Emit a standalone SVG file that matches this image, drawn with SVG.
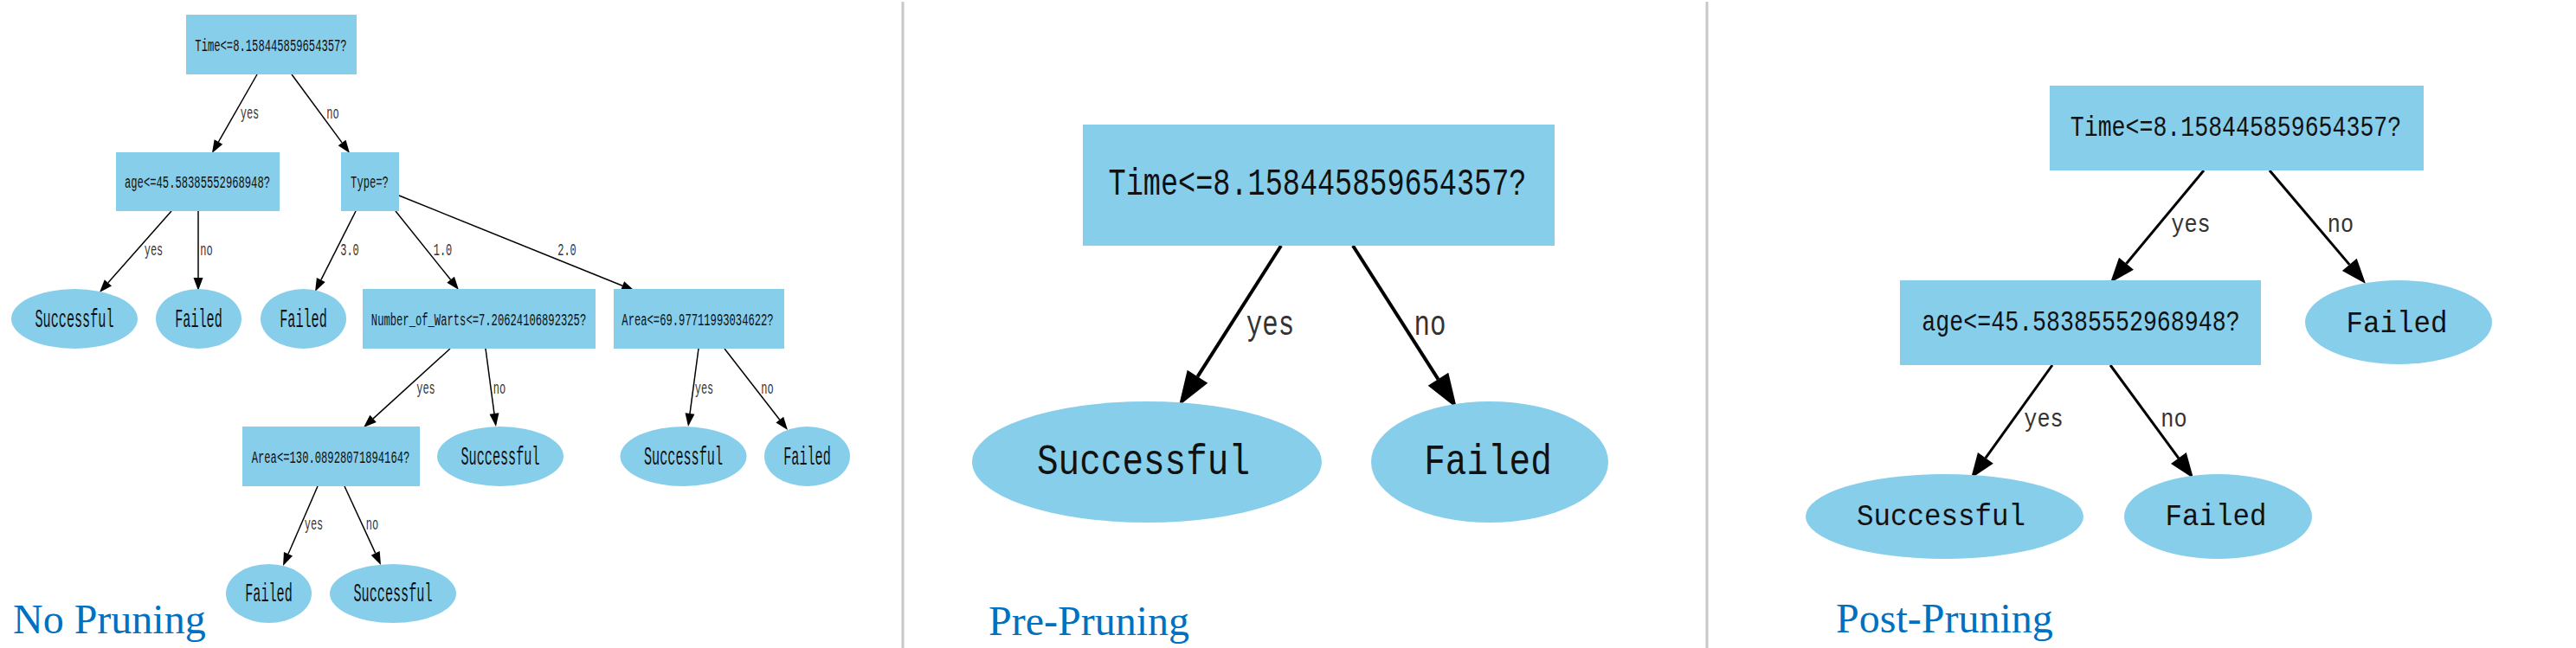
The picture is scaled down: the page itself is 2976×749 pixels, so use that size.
<svg xmlns="http://www.w3.org/2000/svg" width="2976" height="749" viewBox="0 0 2976 749">
<style>
.box{fill:#87CEEB}
.t{font-family:"Liberation Mono",monospace;fill:#111;text-anchor:middle}
.lbl{font-family:"Liberation Mono",monospace;fill:#333;text-anchor:middle}
.title{font-family:"Liberation Serif",serif;font-size:48px;fill:#0070C0}
.e1{stroke:#000;stroke-width:1.5;fill:none;marker-end:url(#a1)}
.e2{stroke:#000;stroke-width:4;fill:none;marker-end:url(#a2)}
.e3{stroke:#000;stroke-width:3;fill:none;marker-end:url(#a3)}
.div{stroke:#c8c8c8;stroke-width:3}
.f1{font-size:21px}.l1{font-size:20px}.s1{font-size:30px}
.f2{font-size:44px}.l2{font-size:40px}.s2{font-size:50px}
.f3{font-size:33px}.l3{font-size:29px}.s3{font-size:36px}
</style>
<defs>
<marker id="a1" markerUnits="userSpaceOnUse" markerWidth="15" markerHeight="11" refX="0" refY="5.5" orient="auto" overflow="visible"><path d="M0,0 L15,5.5 L0,11 Z" fill="#000"/></marker>
<marker id="a2" markerUnits="userSpaceOnUse" markerWidth="40" markerHeight="28" refX="0" refY="14" orient="auto" overflow="visible"><path d="M0,0 L40,14 L0,28 Z" fill="#000"/></marker>
<marker id="a3" markerUnits="userSpaceOnUse" markerWidth="29" markerHeight="22" refX="0" refY="11" orient="auto" overflow="visible"><path d="M0,0 L29,11 L0,22 Z" fill="#000"/></marker>
</defs>
<rect width="2976" height="749" fill="#fff"/>
<line class="div" x1="1043" y1="2" x2="1043" y2="749"/>
<line class="div" x1="1972" y1="2" x2="1972" y2="749"/>

<g id="connectors">
<line class="e1" x1="297" y1="86" x2="252.4" y2="164"/>
<line class="e1" x1="337" y1="86" x2="395.1" y2="164.9"/>
<line class="e1" x1="198" y1="244" x2="124.9" y2="326.8"/>
<line class="e1" x1="229" y1="244" x2="229" y2="321"/>
<line class="e1" x1="411" y1="244" x2="370.8" y2="323.6"/>
<line class="e1" x1="457" y1="244" x2="520.6" y2="323.3"/>
<line class="e1" x1="461" y1="226" x2="719.1" y2="330.3"/>
<line class="e1" x1="520" y1="403" x2="431.1" y2="483.9"/>
<line class="e1" x1="561" y1="403" x2="571" y2="478.1"/>
<line class="e1" x1="807" y1="403" x2="797" y2="478.1"/>
<line class="e1" x1="837" y1="403" x2="900.8" y2="485.2"/>
<line class="e1" x1="367" y1="562" x2="333" y2="640.2"/>
<line class="e1" x1="398" y1="562" x2="433.7" y2="639.4"/>
<text class="lbl l1" transform="translate(288.5,137) scale(0.6,1)">yes</text>
<text class="lbl l1" transform="translate(384.5,137) scale(0.6,1)">no</text>
<text class="lbl l1" transform="translate(177.5,295) scale(0.6,1)">yes</text>
<text class="lbl l1" transform="translate(238.5,295) scale(0.6,1)">no</text>
<text class="lbl l1" transform="translate(404,295) scale(0.6,1)">3.0</text>
<text class="lbl l1" transform="translate(511.5,295) scale(0.6,1)">1.0</text>
<text class="lbl l1" transform="translate(655,295) scale(0.6,1)">2.0</text>
<text class="lbl l1" transform="translate(492,455) scale(0.6,1)">yes</text>
<text class="lbl l1" transform="translate(577,455) scale(0.6,1)">no</text>
<text class="lbl l1" transform="translate(813.5,455) scale(0.6,1)">yes</text>
<text class="lbl l1" transform="translate(886.5,455) scale(0.6,1)">no</text>
<text class="lbl l1" transform="translate(362.5,612) scale(0.6,1)">yes</text>
<text class="lbl l1" transform="translate(430,612) scale(0.6,1)">no</text>

<line class="e2" x1="1480" y1="284" x2="1383.5" y2="435.3"/>
<line class="e2" x1="1563" y1="284" x2="1661.5" y2="438.3"/>
<text class="lbl l2" transform="translate(1467.5,387) scale(0.77,1)">yes</text>
<text class="lbl l2" transform="translate(1652,387) scale(0.77,1)">no</text>

<line class="e3" x1="2546" y1="197" x2="2456.5" y2="304.7"/>
<line class="e3" x1="2622" y1="197" x2="2714.3" y2="305.9"/>
<line class="e3" x1="2371" y1="422" x2="2293.9" y2="529.4"/>
<line class="e3" x1="2438" y1="422" x2="2516.9" y2="529.6"/>
<text class="lbl l3" transform="translate(2531,268) scale(0.87,1)">yes</text>
<text class="lbl l3" transform="translate(2704,268) scale(0.87,1)">no</text>
<text class="lbl l3" transform="translate(2361,493) scale(0.87,1)">yes</text>
<text class="lbl l3" transform="translate(2511.5,493) scale(0.87,1)">no</text>
</g>

<!-- Panel 1: No Pruning -->
<g id="p1-root"><rect class="box" x="215" y="17" width="197" height="69"/><text class="t f1" transform="translate(313,58.5) scale(0.58,1)">Time&lt;=8.158445859654357?</text></g>
<g id="p1-age"><rect class="box" x="134" y="176" width="189" height="68"/><text class="t f1" transform="translate(228,217) scale(0.58,1)">age&lt;=45.58385552968948?</text></g>
<g id="p1-type"><rect class="box" x="394" y="176" width="67" height="68"/><text class="t f1" transform="translate(427,217) scale(0.58,1)">Type=?</text></g>
<g id="p1-s1"><ellipse class="box" cx="86" cy="368.5" rx="73" ry="34.5"/><text class="t s1" transform="translate(86,377.5) scale(0.506,1)">Successful</text></g>
<g id="p1-f1"><ellipse class="box" cx="229.5" cy="368.5" rx="49.5" ry="34.5"/><text class="t s1" transform="translate(229.5,377.5) scale(0.506,1)">Failed</text></g>
<g id="p1-f2"><ellipse class="box" cx="350.5" cy="368.5" rx="49.5" ry="34.5"/><text class="t s1" transform="translate(350.5,377.5) scale(0.506,1)">Failed</text></g>
<g id="p1-warts"><rect class="box" x="419" y="334" width="269" height="69"/><text class="t f1" transform="translate(553,375.5) scale(0.58,1)">Number_of_Warts&lt;=7.20624106892325?</text></g>
<g id="p1-area69"><rect class="box" x="709" y="334" width="197" height="69"/><text class="t f1" transform="translate(806,375.5) scale(0.58,1)">Area&lt;=69.97711993034622?</text></g>
<g id="p1-area130"><rect class="box" x="280" y="493" width="205" height="69"/><text class="t f1" transform="translate(382,534.5) scale(0.58,1)">Area&lt;=130.08928071894164?</text></g>
<g id="p1-s2"><ellipse class="box" cx="578" cy="527.5" rx="73" ry="34.5"/><text class="t s1" transform="translate(578,536.5) scale(0.506,1)">Successful</text></g>
<g id="p1-s3"><ellipse class="box" cx="789.5" cy="527.5" rx="73" ry="34.5"/><text class="t s1" transform="translate(789.5,536.5) scale(0.506,1)">Successful</text></g>
<g id="p1-f3"><ellipse class="box" cx="932.5" cy="527.5" rx="49.5" ry="34.5"/><text class="t s1" transform="translate(932.5,536.5) scale(0.506,1)">Failed</text></g>
<g id="p1-f4"><ellipse class="box" cx="310.5" cy="686" rx="49.5" ry="34"/><text class="t s1" transform="translate(310.5,695) scale(0.506,1)">Failed</text></g>
<g id="p1-s4"><ellipse class="box" cx="454" cy="686" rx="73" ry="34"/><text class="t s1" transform="translate(454,695) scale(0.506,1)">Successful</text></g>
<text class="title" x="15" y="732">No Pruning</text>

<!-- Panel 2: Pre-Pruning -->
<g id="p2-root"><rect class="box" x="1251" y="144" width="545" height="140"/><text class="t f2" transform="translate(1522,225) scale(0.762,1)">Time&lt;=8.158445859654357?</text></g>
<g id="p2-s"><ellipse class="box" cx="1325" cy="534" rx="202" ry="70"/><text class="t s2" transform="translate(1321,548) scale(0.82,1)">Successful</text></g>
<g id="p2-f"><ellipse class="box" cx="1721" cy="534" rx="137" ry="70"/><text class="t s2" transform="translate(1719,548) scale(0.82,1)">Failed</text></g>
<text class="title" x="1142" y="734">Pre-Pruning</text>

<!-- Panel 3: Post-Pruning -->
<g id="p3-root"><rect class="box" x="2368" y="99" width="432" height="98"/><text class="t f3" transform="translate(2583,157) scale(0.805,1)">Time&lt;=8.158445859654357?</text></g>
<g id="p3-age"><rect class="box" x="2195" y="324" width="417" height="98"/><text class="t f3" transform="translate(2404,382) scale(0.807,1)">age&lt;=45.58385552968948?</text></g>
<g id="p3-f1"><ellipse class="box" cx="2771" cy="372.5" rx="108" ry="48.5"/><text class="t s3" transform="translate(2769,384) scale(0.903,1)">Failed</text></g>
<g id="p3-s"><ellipse class="box" cx="2246.5" cy="597" rx="160.5" ry="49"/><text class="t s3" transform="translate(2242.5,607) scale(0.903,1)">Successful</text></g>
<g id="p3-f2"><ellipse class="box" cx="2562.5" cy="597" rx="108.5" ry="49"/><text class="t s3" transform="translate(2560,607) scale(0.903,1)">Failed</text></g>
<text class="title" x="2121" y="731">Post-Pruning</text>
</svg>
